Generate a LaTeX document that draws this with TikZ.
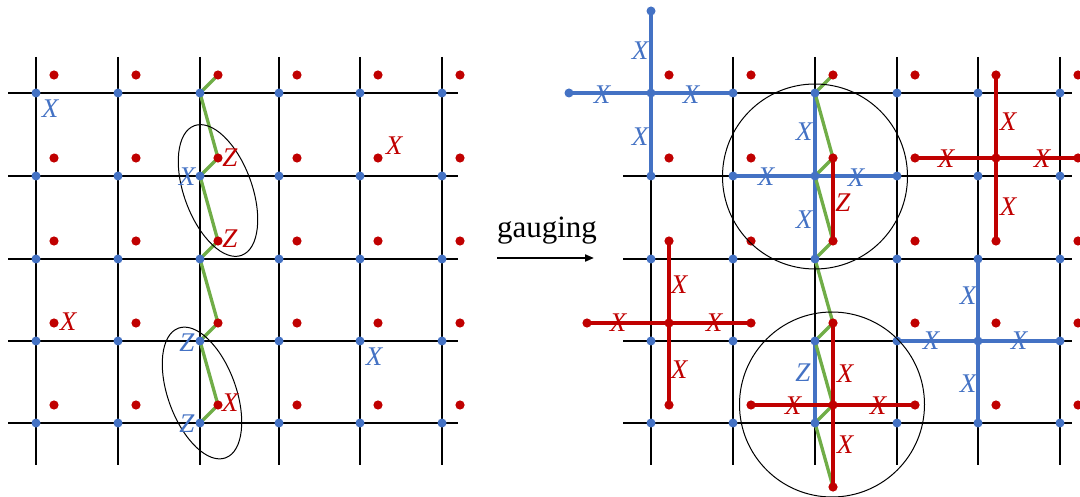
\documentclass[tikz,border=0pt]{standalone}
\usepackage{fontspec}
\setmainfont{Liberation Serif}
\definecolor{qblue}{RGB}{68,114,196}
\definecolor{qred}{RGB}{192,0,0}
\definecolor{qgreen}{RGB}{112,173,71}
\usepackage{tikz}
\usetikzlibrary{arrows.meta, shapes.geometric}
\newcommand{\opfont}{\fontsize{27}{30}\selectfont\itshape}

\begin{document}
\begin{tikzpicture}[x=1pt, y=-1pt,
      latline/.style={line width=1.7pt, color=black},
      gpath/.style={line width=3.3pt, color=qgreen, line join=round},
      bluearm/.style={line width=4.6pt, color=qblue},
      redarm/.style={line width=4.6pt, color=qred},
      vdot/.style={fill=qblue},
      pdot/.style={fill=qred},
      ring/.style={draw=black, line width=1pt, inner sep=0pt},
      bop/.style={text=qblue, font=\opfont, inner sep=0pt},
      rop/.style={text=qred, font=\opfont, inner sep=0pt}
    ]
    \useasboundingbox (0,0) rectangle (1080,497);

    % Left lattice
    \foreach \x [count=\c from 0] in {36,118,200,279,360,442}{
      \draw[latline] (\x,57) -- (\x,465);
      \foreach \y [count=\r from 0] in {93,176,259,341,423}{
        \coordinate (lv-\c-\r) at (\x,\y);
        \coordinate (lp-\c-\r) at (\x+18,\y-18);
      }
    }
    \foreach \y in {93,176,259,341,423}
      \draw[latline] (8,\y) -- (458,\y);

    % Right lattice
    \foreach \x [count=\c from 0] in {651,733,815,897,978,1060}{
      \draw[latline] (\x,57) -- (\x,465);
      \foreach \y [count=\r from 0] in {93,176,259,341,423}{
        \coordinate (rv-\c-\r) at (\x,\y);
        \coordinate (rp-\c-\r) at (\x+18,\y-18);
      }
    }
    \foreach \y in {93,176,259,341,423}
      \draw[latline] (623,\y) -- (1072,\y);
    \coordinate (rv-0-top) at (651,11);
    \coordinate (rv-w-0) at (569,93);
    \coordinate (rp-w-3) at (587,323);
    \coordinate (rp-2-5) at (833,487);

    % Blue strings
    \draw[bluearm] (rv-0-top) -- (rv-0-1);
    \draw[bluearm] (rv-w-0) -- (rv-1-0);
    \draw[bluearm] (rv-2-0) -- (rv-2-2);
    \draw[bluearm] (rv-1-1) -- (rv-3-1);
    \draw[bluearm] (rv-2-3) -- (rv-2-4);
    \draw[bluearm] (rv-4-2) -- (rv-4-4);
    \draw[bluearm] (rv-3-3) -- (rv-5-3);

    % Green chains
    \draw[gpath] (lp-2-0) -- (lv-2-0) -- (lp-2-1) -- (lv-2-1) -- (lp-2-2) -- (lv-2-2)
      -- (lp-2-3) -- (lv-2-3) -- (lp-2-4) -- (lv-2-4);
    \draw[gpath] (rp-2-0) -- (rv-2-0) -- (rp-2-1) -- (rv-2-1) -- (rp-2-2) -- (rv-2-2)
      -- (rp-2-3) -- (rv-2-3) -- (rp-2-4) -- (rv-2-4) -- (rp-2-5);

    % Red strings
    \draw[redarm] (rp-4-0) -- (rp-4-2);
    \draw[redarm] (rp-3-1) -- (rp-5-1);
    \draw[redarm] (rp-2-1) -- (rp-2-2);
    \draw[redarm] (rp-0-2) -- (rp-0-4);
    \draw[redarm] (rp-w-3) -- (rp-1-3);
    \draw[redarm] (rp-2-3) -- (rp-2-5);
    \draw[redarm] (rp-1-4) -- (rp-3-4);

    % Dots
    \foreach \c in {0,...,5}
      \foreach \r in {0,...,4}{
        \fill[vdot] (lv-\c-\r) circle[radius=4.5pt];
        \fill[pdot] (lp-\c-\r) circle[radius=4.6pt];
        \fill[vdot] (rv-\c-\r) circle[radius=4.5pt];
        \fill[pdot] (rp-\c-\r) circle[radius=4.6pt];
      }
    \fill[vdot] (rv-0-top) circle[radius=4.5pt];
    \fill[vdot] (rv-w-0) circle[radius=4.5pt];
    \fill[pdot] (rp-w-3) circle[radius=4.6pt];
    \fill[pdot] (rp-2-5) circle[radius=4.6pt];

    % Regions
    \node[ring, ellipse, minimum width=68pt, minimum height=138pt, rotate=20] (oval1) at (218,190.5) {};
    \node[ring, ellipse, minimum width=68pt, minimum height=138pt, rotate=20] (oval2) at (202,393) {};
    \node[ring, circle, minimum size=185pt] (ring1) at (815,176.5) {};
    \node[ring, circle, minimum size=185pt] (ring2) at (832,404.5) {};

    % Left labels
    \node[bop] (lx1) at (50,109) {X};
    \node[rop] (lx2) at (394,146) {X};
    \node[rop] (lz1) at (230,158) {Z};
    \node[bop] (lx3) at (187,177) {X};
    \node[rop] (lz2) at (230,239) {Z};
    \node[rop] (lx4) at (68,322) {X};
    \node[bop] (lz3) at (187,343) {Z};
    \node[bop] (lx5) at (374,357) {X};
    \node[rop] (lx6) at (230,403) {X};
    \node[bop] (lz4) at (187,424) {Z};

    % Right labels
    \node[bop] (ba1) at (640,51) {X};
    \node[bop] (ba2) at (640,137) {X};
    \node[bop] (ba3) at (602,95) {X};
    \node[bop] (ba4) at (691,95) {X};
    \node[bop] (bb1) at (804,132) {X};
    \node[bop] (bb2) at (804,220) {X};
    \node[bop] (bb3) at (766,177) {X};
    \node[bop] (bb4) at (856,178) {X};
    \node[rop] (rz1) at (843,203) {Z};
    \node[rop] (ra1) at (1008,122) {X};
    \node[rop] (ra2) at (1008,207) {X};
    \node[rop] (ra3) at (946,159) {X};
    \node[rop] (ra4) at (1042,159) {X};
    \node[rop] (rb1) at (679,285) {X};
    \node[rop] (rb2) at (679,370) {X};
    \node[rop] (rb3) at (618,323) {X};
    \node[rop] (rb4) at (714,323) {X};
    \node[bop] (bz1) at (803,373) {Z};
    \node[rop] (rc1) at (845,374) {X};
    \node[rop] (rc2) at (845,445) {X};
    \node[rop] (rc3) at (793,406) {X};
    \node[rop] (rc4) at (878,406) {X};
    \node[bop] (bc1) at (968,296) {X};
    \node[bop] (bc2) at (968,384) {X};
    \node[bop] (bc3) at (931,341) {X};
    \node[bop] (bc4) at (1019,341) {X};

    % Gauging map
    \node[anchor=base, font=\fontsize{31}{36}\selectfont] (gauge) at (547,238) {gauging};
    \coordinate (map-s) at (497,258);
    \coordinate (map-e) at (594,258);
    \draw[-{Triangle[length=9pt, width=7pt]}, line width=2pt] (map-s) -- (map-e);

  \end{tikzpicture}
\end{document}
